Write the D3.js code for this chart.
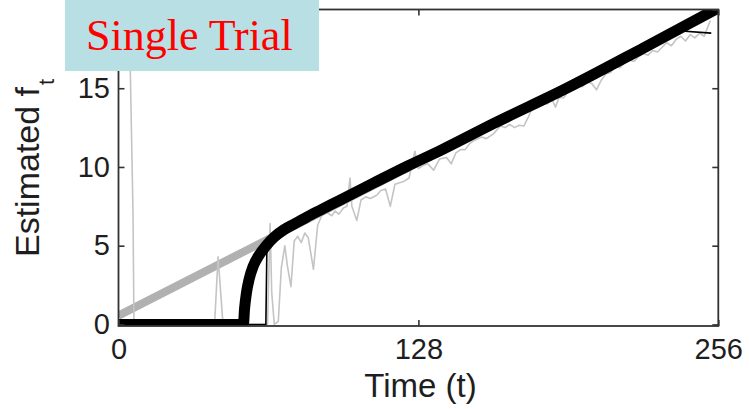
<!DOCTYPE html>
<html>
<head>
<meta charset="utf-8">
<script src="https://cdn.jsdelivr.net/npm/d3@7"></script>
<style>
  html, body { margin: 0; padding: 0; background: #fff; }
  svg { display: block; }
  .tick text { font-family: "Liberation Sans", Arial, sans-serif; font-size: 29px; fill: #1e1e1e; }
</style>
</head>
<body>
<svg id="chart" width="749" height="409"></svg>
<script>
// Axis ticks (the top value sits under the title banner and carries no label)
const timeTicks = [0, 128, 256];
const freqTicks = [0, 5, 10, 15, 20];
const freqLabels = ["0", "5", "10", "15", ""];

// True frequency (thick gray line)
const trueT = [0, 64, 128, 192, 256];
const trueF = [0.56, 5.42, 10.28, 15.14, 20.0];

// Raw single-trial estimate (thin gray line)
const rawT = [0, 4.8, 6.2, 6.6, 41, 42.5, 44.6, 63.6, 64.7, 65.4, 66.5, 68.2, 69.5, 71, 72, 73.6,
  75, 76.5, 78, 79.5, 81, 83.2, 85, 87, 89, 91, 92.5, 94, 96, 97.5, 98.8, 99.6, 101.7, 103.5,
  105.5, 107.5, 110.2, 112, 114, 116, 118, 120, 122, 124, 126.5, 128, 130, 132, 134.5, 137,
  140, 142, 144, 146, 148, 150, 152, 155, 157, 160, 163, 165, 167, 169, 171, 173, 175, 177,
  179, 181, 183, 185, 186.5, 188, 190, 192, 194, 196, 198, 200, 202, 204, 206, 208, 210, 212,
  214, 216, 218, 220, 222, 224, 226, 228, 230, 232, 234, 236, 238, 240, 242, 244, 246, 248,
  250, 252.6];
const rawF = [80, 18, 7, 0, 0, 4.3, 0, 0, 6.4, 2.0, 0, 0.2, 3.6, 5.0, 3.8, 2.4,
  5.3, 5.6, 5.2, 5.8, 5.5, 3.5, 6.3, 7.0, 7.1, 6.9, 7.2, 7.0, 7.4, 7.5, 9.3, 7.5, 6.6, 7.9,
  8.1, 8.0, 8.2, 8.5, 8.6, 7.5, 8.9, 9.0, 9.1, 9.3, 11.0, 9.9, 10.1, 10.2, 9.8, 10.5,
  10.6, 10.2, 10.9, 11.1, 11.1, 11.5, 11.7, 11.9, 11.8, 12.1, 12.6, 12.5, 12.7, 12.5, 12.65, 12.6, 13.2, 13.9,
  13.8, 14.1, 14.0, 14.3, 13.8, 14.4, 14.4, 14.8, 14.9, 15.2, 15.1, 15.4, 15.3, 14.9, 15.5, 15.9, 16.0, 16.4,
  16.3, 16.6, 16.8, 16.7, 17.0, 17.2, 17.1, 17.4, 17.3, 17.6, 17.9, 17.7, 18.1, 18.3, 18.0, 18.4, 18.2, 18.5,
  18.3, 19.3];

// Second estimator (thin black line)
const altT = [0, 62.9, 63.3, 64.5, 70.5, 80.4, 94.6, 108.8, 123, 137.3, 160, 192, 224, 239, 253];
const altF = [0, 0, 4.5, 5.2, 6.0, 6.82, 7.9, 8.97, 10.03, 11.04, 12.75, 15.05, 17.55, 18.65, 18.5];

// Smoothed estimate (thick black line)
const estT = [0, 53.3, 53.8, 54.6, 55.8, 57.5, 60, 63, 66.5, 70.5, 75, 80.4, 87, 94.6, 108.8, 123, 137.3, 160, 192, 224, 256];
const estF = [0, 0, 1.0, 2.0, 2.9, 3.7, 4.4, 5.0, 5.55, 6.0, 6.38, 6.82, 7.32, 7.9, 8.97, 10.03, 11.04, 12.75, 15.05, 17.55, 20.1];

const titleText = "Single Trial";
const xLabel = "Time (t)";
const yLabel = "Estimated f";
const ySub = "t";

const svg = d3.select("#chart");
const plotLeft = 118.5, plotRight = 718.3, plotTop = 9.5, plotBottom = 326;

const x = d3.scaleLinear().domain([0, 256]).range([plotLeft, plotRight]);
const y = d3.scaleLinear().domain([-0.1, 20]).range([plotBottom, plotTop]);

svg.append("defs").append("clipPath").attr("id", "plotClip")
  .append("rect").attr("x", plotLeft).attr("y", plotTop)
  .attr("width", plotRight - plotLeft).attr("height", plotBottom - plotTop);

const plot = svg.append("g").attr("clip-path", "url(#plotClip)");

const zipped = (ts, vs) => ts.map((t, i) => [t, vs[i]]);
const line = d3.line().x(d => x(d[0])).y(d => y(d[1]));

plot.append("path").datum(zipped(trueT, trueF))
  .attr("d", line).attr("fill", "none")
  .attr("stroke", "#b1b1b1").attr("stroke-width", 8);

plot.append("path").datum(zipped(rawT, rawF))
  .attr("d", line).attr("fill", "none")
  .attr("stroke", "#c4c4c4").attr("stroke-width", 1.6).attr("stroke-linejoin", "round");

plot.append("path").datum(zipped(altT, altF))
  .attr("d", line).attr("fill", "none")
  .attr("stroke", "#000").attr("stroke-width", 1.6);

plot.append("path").datum(zipped(estT, estF))
  .attr("d", d3.line().x(d => x(d[0])).y(d => y(d[1])).curve(d3.curveMonotoneX))
  .attr("fill", "none")
  .attr("stroke", "#000").attr("stroke-width", 11).attr("stroke-linejoin", "round");

// Axes: inward ticks on all four sides, box frame
const axisColor = "#333";
const styleAxis = g => {
  g.select(".domain").remove();
  g.selectAll(".tick line").attr("stroke", axisColor).attr("stroke-width", 1.6);
};

svg.append("g").attr("transform", `translate(0,${plotBottom})`)
  .call(d3.axisBottom(x).tickValues(timeTicks).tickSize(-6).tickPadding(12))
  .call(styleAxis);
svg.append("g").attr("transform", `translate(0,${plotTop})`)
  .call(d3.axisTop(x).tickValues(timeTicks).tickSize(-6).tickFormat(""))
  .call(styleAxis);
svg.append("g").attr("transform", `translate(${plotLeft},0)`)
  .call(d3.axisLeft(y).tickValues(freqTicks).tickSize(-6).tickPadding(8.5)
    .tickFormat((d, i) => freqLabels[i]))
  .call(styleAxis);
svg.append("g").attr("transform", `translate(${plotRight},0)`)
  .call(d3.axisRight(y).tickValues(freqTicks).tickSize(-6).tickFormat(""))
  .call(styleAxis);

svg.append("rect").attr("x", plotLeft).attr("y", plotTop)
  .attr("width", plotRight - plotLeft).attr("height", plotBottom - plotTop)
  .attr("fill", "none").attr("stroke", axisColor).attr("stroke-width", 1.8);

// Axis titles
svg.append("text").attr("x", 420.5).attr("y", 397)
  .attr("text-anchor", "middle")
  .style("font-family", "'Liberation Sans', Arial, sans-serif")
  .style("font-size", "33px").style("fill", "#1e1e1e")
  .text(xLabel);

const yl = svg.append("text")
  .attr("transform", "translate(39,257) rotate(-90)")
  .style("font-family", "'Liberation Sans', Arial, sans-serif")
  .style("font-size", "34px").style("fill", "#1e1e1e");
yl.append("tspan").text(yLabel);
yl.append("tspan").attr("dy", 15).attr("dx", 2).style("font-size", "22px").text(ySub);

// Title banner
svg.append("rect").attr("x", 65).attr("y", 0).attr("width", 254).attr("height", 71)
  .attr("fill", "#b8dfe3");
svg.append("text").attr("x", 86).attr("y", 50)
  .style("font-family", "'Liberation Serif', 'Times New Roman', serif")
  .style("font-size", "44px").style("fill", "#ff0000")
  .text(titleText);
</script>
</body>
</html>
